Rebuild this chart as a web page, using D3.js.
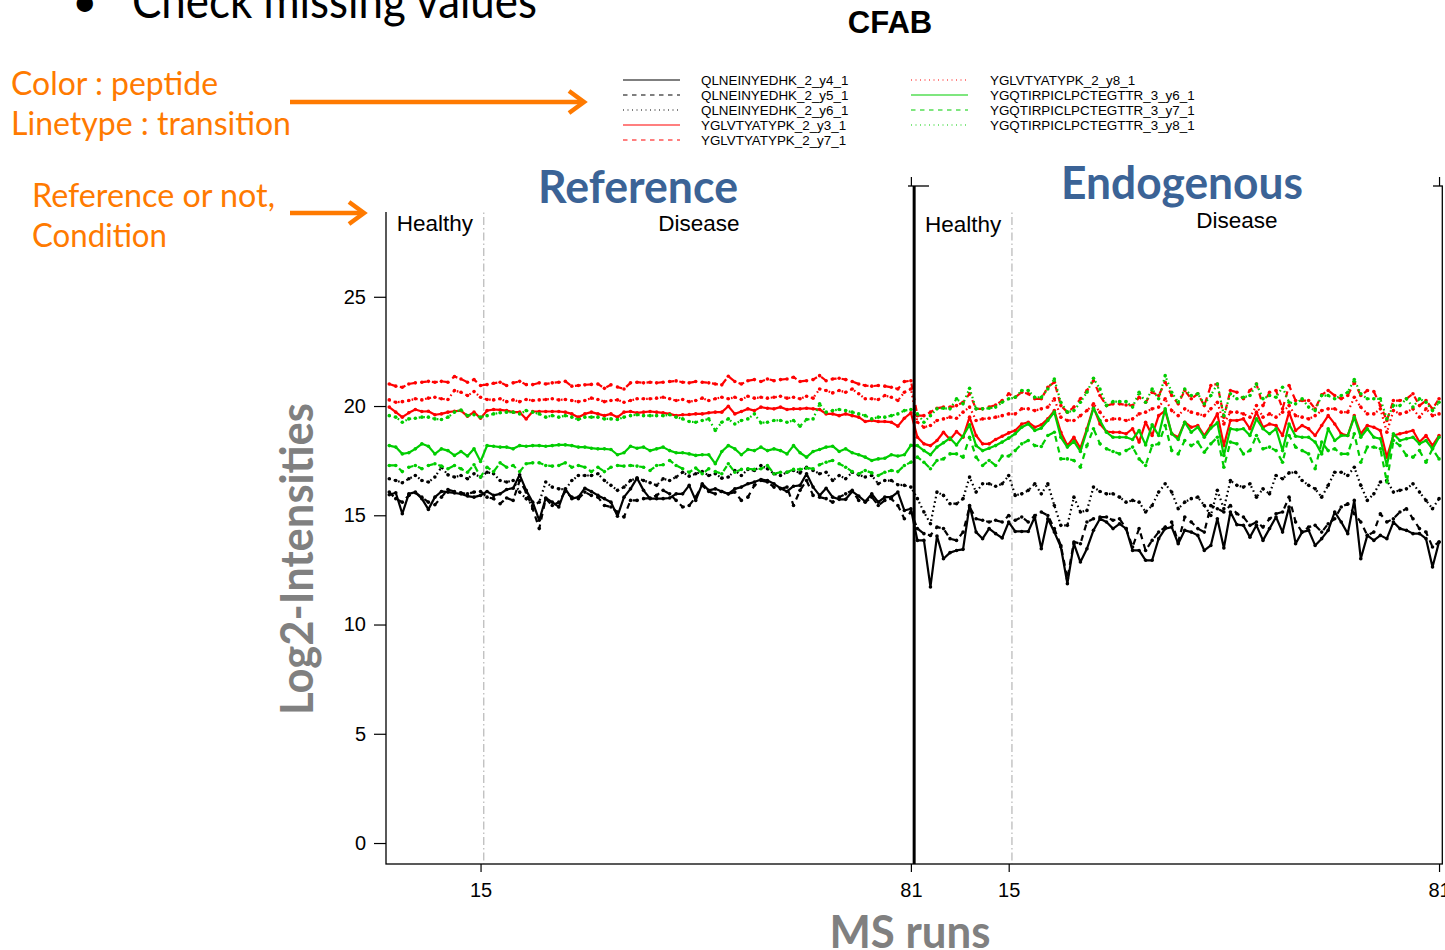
<!DOCTYPE html>
<html>
<head>
<meta charset="utf-8">
<script src="https://cdn.jsdelivr.net/npm/d3@7"></script>
<style>
  body { margin: 0; background: #fff; }
  svg { display: block; }
</style>
</head>
<body>
<svg id="chart" width="1445" height="950"></svg>
<script>
// ---- data: log2 intensities per MS run (runs 1-81 reference, 82-162 endogenous) ----
const QLN_y4 = [
  15.94,16.03,15.07,15.98,16.06,15.76,15.27,15.83,16.09,16.06,16.02,15.98,15.88,15.83,15.91,16.09,15.91,15.98,16.18,16.24,16.85,16.14,15.6,14.77,15.79,15.6,15.38,16.21,15.76,15.83,16.24,16.09,15.91,15.76,15.6,14.96,15.83,16.21,16.7,16.14,15.76,
  15.76,15.76,15.79,15.98,15.98,16.37,15.68,16.44,16.14,16.21,16.09,15.98,16.21,16.29,16.44,16.52,16.64,16.59,16.44,16.24,16.09,16.33,16.37,16.9,16.29,15.91,16.24,15.83,15.73,15.73,16.09,15.88,15.63,15.98,15.6,15.83,15.83,16.06,15.22,15.3,
  13.85,13.85,11.72,14.05,13.01,13.29,13.39,13.44,15.45,14.23,13.93,14.39,14.16,13.96,14.69,14.26,14.26,14.26,14.92,13.47,14.84,14.23,13.55,11.87,13.7,12.86,13.47,14.31,14.84,14.69,14.39,14.61,14.39,13.39,13.39,12.94,12.94,13.93,14.39,14.46,13.7,
  14.31,14.23,14.08,13.39,13.62,14.84,13.5,15.15,14.57,14.54,14.0,14.54,13.85,14.39,14.92,14.23,15.38,13.7,14.23,14.31,13.62,13.93,14.31,15.15,14.69,14.16,15.68,13.01,14.08,13.85,14.08,13.93,14.69,14.39,14.31,14.16,14.16,13.93,12.63,13.78
];
const QLN_y5 = [
  16.06,15.76,15.6,15.91,16.03,15.83,15.6,15.48,15.83,16.18,16.09,16.03,15.98,16.06,16.09,15.83,15.76,15.53,15.79,15.68,16.59,16.06,15.3,14.39,15.76,15.45,15.6,16.09,15.83,15.76,16.06,15.91,15.83,15.45,15.38,15.15,14.92,15.68,15.68,15.76,15.79,
  15.91,16.14,15.98,15.68,15.38,15.45,15.83,16.37,16.09,15.98,16.09,15.98,16.06,15.68,15.83,16.37,16.59,16.52,16.29,16.21,16.29,15.45,16.14,16.59,15.91,15.83,15.76,15.6,15.83,15.98,16.14,15.68,15.6,15.83,15.45,15.68,15.76,15.45,14.84,15.15,
  14.39,14.16,14.08,14.46,14.39,13.93,13.85,14.23,15.38,14.84,14.77,14.69,14.77,14.69,14.99,14.77,14.92,14.69,14.99,15.15,14.99,14.39,13.62,12.1,13.78,13.7,14.69,14.84,14.92,14.92,14.77,14.84,14.39,13.55,14.39,13.39,13.85,14.23,14.46,14.69,13.78,
  14.92,14.69,14.39,14.23,15.45,15.3,15.15,15.45,15.07,14.92,14.54,14.69,14.46,14.84,15.07,15.15,15.83,14.69,14.23,14.46,14.54,14.23,14.61,14.84,15.38,15.53,15.07,14.69,14.08,14.23,15.07,14.69,14.84,15.15,15.3,14.84,14.39,14.23,13.55,13.78
];
const QLN_y6 = [
  16.67,16.59,16.49,16.67,16.82,16.59,16.52,16.75,17.2,16.85,16.75,16.82,16.67,16.9,16.75,16.97,16.9,16.59,16.52,16.59,16.06,15.76,15.45,15.6,16.52,16.29,16.21,16.18,16.59,16.82,16.82,16.82,16.9,16.59,16.37,16.14,16.29,16.59,16.7,16.59,16.49,
  16.37,16.67,16.59,16.75,16.97,16.79,16.9,17.0,16.82,16.9,16.7,16.75,17.05,16.82,17.1,17.05,17.28,17.13,16.9,16.82,16.97,17.05,16.94,17.2,17.05,16.9,16.97,16.59,16.82,16.67,16.97,16.85,16.75,16.82,16.44,16.59,16.59,16.4,16.37,16.29,
  15.76,15.15,14.61,16.06,15.91,15.53,15.53,15.76,16.75,16.06,16.44,16.44,16.33,16.44,16.82,15.91,15.98,16.14,16.44,15.98,16.44,15.45,14.54,14.54,15.83,15.15,15.22,16.29,16.09,15.98,15.98,15.83,15.6,15.68,15.6,15.15,15.45,16.06,16.44,16.06,15.3,
  15.6,15.76,15.83,15.45,14.99,16.14,15.3,16.59,16.37,16.29,16.44,15.83,16.21,15.98,16.82,16.67,16.94,16.97,16.59,16.37,16.21,15.83,16.37,16.97,16.97,16.82,17.2,16.37,15.68,15.98,16.52,16.59,16.06,16.14,16.21,16.44,16.06,15.68,15.3,15.76
];
const YGL_y3 = [
  19.95,19.72,19.49,19.69,19.84,19.75,19.76,19.6,19.64,19.72,19.76,19.79,19.53,19.72,19.44,19.79,19.84,19.82,19.79,19.72,19.72,19.41,19.75,19.75,19.75,19.75,19.75,19.72,19.64,19.49,19.64,19.72,19.64,19.56,19.64,19.49,19.72,19.75,19.69,19.72,19.75,
  19.72,19.69,19.64,19.56,19.6,19.61,19.64,19.64,19.69,19.72,19.72,19.99,19.64,19.75,19.87,19.79,19.95,19.9,19.87,19.95,19.84,19.87,19.87,19.9,19.87,19.84,19.64,19.64,19.56,19.64,19.56,19.49,19.29,19.34,19.29,19.29,19.26,19.08,19.44,19.69,
  18.57,18.27,18.19,18.42,18.8,18.47,18.83,18.57,19.49,18.65,18.27,18.27,18.47,18.62,18.77,18.88,19.18,19.26,19.03,19.14,19.41,19.79,18.8,18.19,18.57,18.07,18.96,19.95,19.18,18.83,18.8,18.8,18.73,18.96,18.35,19.26,18.65,19.56,19.79,18.73,18.57,
  19.26,19.03,19.11,18.65,19.11,19.64,18.19,19.34,19.34,19.41,18.96,19.72,19.03,19.18,19.11,18.65,19.72,18.88,19.11,18.96,18.65,19.11,19.56,19.18,18.73,18.65,19.56,18.73,19.11,19.03,18.88,17.66,18.65,18.73,18.8,18.88,18.35,18.65,18.19,18.65
];
const YGL_y7 = [
  21.01,20.91,20.86,21.01,21.06,21.09,21.13,21.09,21.13,21.09,21.35,21.24,21.09,21.21,20.94,20.98,21.04,21.09,20.94,21.06,21.13,20.98,20.98,21.06,21.01,21.06,21.09,21.13,20.91,20.94,20.97,20.99,21.01,20.81,20.97,20.87,20.78,21.06,21.09,21.06,21.09,
  21.06,21.09,21.12,21.15,21.09,21.06,21.12,21.09,21.06,21.01,20.97,21.36,21.12,21.01,21.16,21.21,21.12,21.24,21.16,21.21,21.24,21.32,21.12,21.16,21.21,21.39,21.16,21.24,21.27,21.21,21.12,21.01,20.94,20.91,20.94,20.91,20.86,20.78,21.12,21.16,
  19.56,19.56,19.72,19.9,19.95,19.95,20.02,20.17,20.56,19.87,19.87,19.95,20.05,20.25,20.56,20.4,20.63,20.56,20.33,20.33,20.86,21.09,20.02,19.72,19.95,20.33,20.71,21.16,20.48,20.02,20.1,20.1,20.05,20.02,20.4,20.17,20.63,20.48,21.09,20.48,20.1,
  20.71,20.33,20.56,20.02,20.94,21.01,19.49,20.71,20.63,20.33,20.71,21.01,20.02,20.63,20.71,19.87,20.94,20.25,20.25,20.25,19.87,20.51,20.71,20.48,20.33,20.48,21.09,20.48,20.71,20.66,20.02,19.34,20.25,20.25,20.33,20.56,20.02,20.25,19.87,20.33
];
const YGL_y8 = [
  20.28,20.17,20.2,20.25,20.33,20.28,20.36,20.4,20.33,20.3,20.71,20.63,20.48,20.66,20.4,20.3,20.28,20.33,20.2,20.28,20.2,20.3,20.25,20.28,20.3,20.33,20.28,20.3,20.25,20.2,20.25,20.36,20.3,20.2,20.25,20.28,20.17,20.25,20.33,20.33,20.33,
  20.36,20.4,20.33,20.25,20.3,20.2,20.25,20.36,20.25,20.33,20.4,20.33,20.4,20.3,20.45,20.36,20.4,20.36,20.4,20.45,20.36,20.4,20.33,20.45,20.36,20.78,20.71,20.6,20.71,20.63,20.78,20.56,20.33,20.33,20.3,20.48,20.4,20.25,20.63,20.78,
  19.26,19.03,19.11,19.34,19.41,19.49,19.44,19.72,19.95,19.34,19.41,19.44,19.49,19.56,19.64,19.64,19.87,19.87,19.79,19.87,19.95,20.33,19.49,19.34,19.34,19.56,19.79,20.1,19.72,19.34,19.41,19.41,19.34,19.41,19.64,19.72,19.87,19.95,20.33,19.79,19.56,
  19.87,19.72,19.64,19.56,19.87,20.17,19.18,19.72,19.72,19.64,19.49,20.02,19.49,19.64,19.49,19.72,20.02,19.56,19.49,19.41,19.56,19.79,19.87,19.87,19.72,19.72,20.4,19.95,19.64,19.64,19.87,18.8,19.79,19.64,19.72,19.87,19.49,19.87,19.56,19.64
];
const YGQ_y6 = [
  18.19,18.12,17.81,17.86,18.04,18.27,18.16,17.81,18.04,17.96,17.74,17.92,17.71,18.04,17.46,18.19,18.16,18.12,18.12,18.04,18.19,18.16,18.19,18.19,18.16,18.19,18.22,18.22,18.19,18.12,18.12,18.07,18.04,18.04,18.01,17.77,17.86,18.16,18.07,18.12,17.96,
  18.04,18.12,17.96,17.86,17.86,17.81,17.74,17.77,17.77,17.36,17.92,18.19,18.04,17.77,18.01,17.96,18.12,17.96,18.04,17.96,17.81,18.19,17.86,17.66,17.92,18.01,18.12,18.16,17.92,18.04,17.86,17.77,17.66,17.51,17.58,17.61,17.77,17.71,17.77,18.2,
  18.19,17.96,17.77,18.12,18.32,18.53,18.22,18.62,19.14,18.19,17.96,18.07,18.19,18.35,18.53,18.73,19.03,19.18,18.88,18.99,19.34,19.72,18.57,18.12,18.38,17.92,18.88,19.9,19.34,18.8,18.57,18.57,18.57,18.47,18.88,18.22,19.14,18.65,19.87,18.73,18.47,
  19.26,18.8,19.03,18.57,18.99,19.23,17.74,18.96,18.91,18.96,18.65,19.41,18.96,18.73,18.96,17.96,19.18,18.62,18.57,18.57,18.35,17.81,18.96,18.42,18.65,18.65,19.49,18.57,18.96,18.57,18.5,17.28,18.73,18.42,18.5,18.57,18.27,18.42,18.04,18.57
];
const YGQ_y7 = [
  17.28,17.28,17.0,17.2,17.28,17.13,17.28,17.36,17.25,17.13,17.28,17.13,16.97,17.31,16.75,17.2,17.0,17.4,17.2,17.28,17.0,17.36,17.4,17.4,17.28,17.25,17.28,17.4,17.2,17.28,17.2,17.0,17.2,17.0,17.2,17.28,17.25,17.28,17.25,17.2,17.05,
  17.28,17.31,17.51,17.28,17.13,16.97,17.16,16.9,17.13,17.0,16.9,17.36,16.97,17.1,17.13,17.1,17.13,17.28,16.9,16.97,16.97,17.1,17.1,17.16,17.13,17.31,17.43,17.51,17.36,17.2,17.0,16.9,17.05,16.94,16.82,16.97,17.05,17.0,17.28,17.43,
  17.66,17.43,17.13,17.51,17.58,17.81,17.81,17.66,18.57,17.66,17.28,17.51,17.28,17.71,17.71,17.96,18.27,18.42,18.19,18.15,18.65,18.8,17.58,17.58,17.51,17.2,18.19,18.96,18.27,18.04,17.92,17.81,17.96,18.12,17.58,17.28,18.19,18.27,19.11,17.96,17.81,
  18.42,18.19,18.35,17.89,18.27,18.57,17.2,18.35,18.27,17.81,17.96,18.65,18.04,18.12,17.96,17.43,18.65,18.12,17.96,17.81,17.13,18.35,17.96,18.04,17.81,17.81,18.73,17.43,18.12,18.12,18.04,16.52,18.42,18.19,17.74,17.66,17.96,17.43,18.04,17.58
];
const YGQ_y8 = [
  19.56,19.49,19.26,19.41,19.44,19.49,19.49,19.41,19.38,19.49,19.72,19.82,19.56,19.6,19.49,19.56,19.64,19.69,19.72,19.72,19.64,19.79,19.72,19.64,19.49,19.56,19.49,19.56,19.49,19.38,19.49,19.49,19.49,19.41,19.41,19.38,19.49,19.56,19.6,19.56,19.56,
  19.56,19.56,19.6,19.49,19.41,19.29,19.26,19.34,19.41,18.88,19.26,19.41,19.18,19.34,19.41,19.64,19.23,19.26,19.34,19.34,19.26,19.34,19.08,19.38,19.41,20.1,19.72,19.79,19.84,19.79,19.72,19.64,19.56,19.41,19.49,19.49,19.56,19.64,19.79,19.84,
  19.64,19.26,19.56,19.87,19.9,19.87,20.33,20.1,20.81,19.87,19.87,19.9,19.95,20.17,20.33,20.4,20.71,20.71,20.4,20.4,20.78,21.24,20.17,19.72,19.79,20.17,20.63,21.27,20.78,20.02,20.2,20.2,20.2,19.95,20.63,20.17,20.78,20.33,21.39,20.63,20.17,
  20.78,20.48,20.56,20.1,20.48,21.01,19.56,20.56,20.33,20.4,20.48,21.01,20.33,20.48,20.4,20.86,20.17,20.1,20.33,19.95,19.79,20.48,20.48,20.33,20.48,20.63,21.21,20.56,20.33,20.33,20.33,19.41,20.02,20.02,20.33,19.95,20.33,20.17,19.79,20.17
];

const transitionNames = [
  "QLNEINYEDHK_2_y4_1", "QLNEINYEDHK_2_y5_1", "QLNEINYEDHK_2_y6_1",
  "YGLVTYATYPK_2_y3_1", "YGLVTYATYPK_2_y7_1", "YGLVTYATYPK_2_y8_1",
  "YGQTIRPICLPCTEGTTR_3_y6_1", "YGQTIRPICLPCTEGTTR_3_y7_1", "YGQTIRPICLPCTEGTTR_3_y8_1"
];
const transitionValues = [QLN_y4, QLN_y5, QLN_y6, YGL_y3, YGL_y7, YGL_y8, YGQ_y6, YGQ_y7, YGQ_y8];
const peptideOf = ["QLNEINYEDHK","QLNEINYEDHK","QLNEINYEDHK","YGLVTYATYPK","YGLVTYATYPK","YGLVTYATYPK",
                   "YGQTIRPICLPCTEGTTR","YGQTIRPICLPCTEGTTR","YGQTIRPICLPCTEGTTR"];
const lineTypeOf = ["solid","dashed","dotted","solid","dashed","dotted","solid","dashed","dotted"];

const runsPerLabel = 81;                 // runs in each of Reference / Endogenous
const conditionBreaks = [15.5, 96.5];    // Healthy | Disease boundaries
const labelTypeBreak = 81.5;             // Reference | Endogenous boundary
const conditionLabels = ["Healthy", "Disease", "Healthy", "Disease"];
const conditionLabelRuns = [8, 48.5, 89, 131];
const xTickRuns = [15, 81, 96, 162];
const yTicks = [0, 5, 10, 15, 20, 25];

// ---- styles ----
const peptideColor = { QLNEINYEDHK: "#000000", YGLVTYATYPK: "#ff0000", YGQTIRPICLPCTEGTTR: "#00cd00" };
const plotDash = { solid: null, dashed: "6,5", dotted: "1.6,3" };
const legendDash = { solid: null, dashed: "4.5,4.5", dotted: "1,3.5" };
const orange = "#ff7a00";
const slideBlue = "#3b6396";
const axisGray = "#808080";

const svg = d3.select("#chart");

// ---- scales ----
const x = d3.scaleLinear().domain([0.5, 2 * runsPerLabel + 0.5]).range([386, 1442.3]);
const y = d3.scaleLinear().domain([-0.96, 30.07]).range([864, 186]);

const plot = svg.append("g");

// condition separators (dot-dash grey)
plot.selectAll("line.cond").data(conditionBreaks).join("line")
  .attr("x1", d => x(d)).attr("x2", d => x(d))
  .attr("y1", y.range()[1]).attr("y2", y.range()[0])
  .attr("stroke", "#a8a8a8").attr("stroke-width", 1)
  .attr("stroke-dasharray", "8,3,1.5,3");

// profile lines
const lineGen = d3.line().x((d, i) => x(i + 1)).y(d => y(d));
transitionValues.forEach((vals, k) => {
  const col = peptideColor[peptideOf[k]];
  plot.append("path")
    .datum(vals)
    .attr("d", lineGen)
    .attr("fill", "none")
    .attr("stroke", col)
    .attr("stroke-width", 2.2)
    .attr("stroke-linejoin", "round")
    .attr("stroke-dasharray", plotDash[lineTypeOf[k]]);
  plot.append("g").selectAll("circle").data(vals).join("circle")
    .attr("cx", (d, i) => x(i + 1)).attr("cy", d => y(d))
    .attr("r", 1.8).attr("fill", col);
});

// plot frame
plot.append("rect")
  .attr("x", x.range()[0]).attr("y", y.range()[1])
  .attr("width", x.range()[1] - x.range()[0]).attr("height", y.range()[0] - y.range()[1])
  .attr("fill", "none").attr("stroke", "#000").attr("stroke-width", 1.3);

// Reference / Endogenous separator
plot.append("line")
  .attr("x1", x(labelTypeBreak)).attr("x2", x(labelTypeBreak))
  .attr("y1", y.range()[1]).attr("y2", y.range()[0])
  .attr("stroke", "#000").attr("stroke-width", 3);

// axes
const tickFont = "'Liberation Sans', Arial, Helvetica, sans-serif";
const yAxis = svg.append("g").attr("transform", `translate(${x.range()[0]},0)`)
  .call(d3.axisLeft(y).tickValues(yTicks).tickSize(12).tickPadding(8));
const xAxis = svg.append("g").attr("transform", `translate(0,${y.range()[0]})`)
  .call(d3.axisBottom(x).tickValues(xTickRuns).tickSize(8).tickPadding(11)
        .tickFormat(d => d > runsPerLabel ? d - runsPerLabel : d));
const topAxis = svg.append("g").attr("transform", `translate(0,${y.range()[1]})`)
  .call(d3.axisTop(x).tickValues([runsPerLabel, 2 * runsPerLabel]).tickSize(9).tickFormat(""));
[yAxis, xAxis, topAxis].forEach(a => {
  a.select(".domain").remove();
  a.selectAll("line").attr("stroke", "#000").attr("stroke-width", 1.2);
  a.selectAll("text").attr("font-family", tickFont).attr("font-size", 20).attr("fill", "#000");
});

// condition labels
svg.append("g").selectAll("text").data(conditionLabels).join("text")
  .attr("x", (d, i) => x(conditionLabelRuns[i]))
  .attr("y", (d, i) => [231, 231, 232, 228][i])
  .attr("text-anchor", "middle")
  .attr("font-family", tickFont).attr("font-size", 22.5)
  .text(d => d);

// slide title boxes over the top of the panels
const calibriLike = "Lato, 'Open Sans', sans-serif";
svg.append("rect").attr("x", 370).attr("y", 150).attr("width", 538).attr("height", 62).attr("fill", "#fff");
svg.append("rect").attr("x", 929).attr("y", 150).attr("width", 504).attr("height", 61.5).attr("fill", "#fff");
svg.append("text").attr("x", 638).attr("y", 203).attr("text-anchor", "middle")
  .attr("font-family", calibriLike).attr("font-weight", 700).attr("font-size", 45)
  .attr("fill", slideBlue).attr("textLength", 200).attr("lengthAdjust", "spacingAndGlyphs")
  .text("Reference");
svg.append("text").attr("x", 1182).attr("y", 199).attr("text-anchor", "middle")
  .attr("font-family", calibriLike).attr("font-weight", 700).attr("font-size", 45)
  .attr("fill", slideBlue).attr("textLength", 242).attr("lengthAdjust", "spacingAndGlyphs")
  .text("Endogenous");

// chart title
svg.append("text").attr("x", 890).attr("y", 33).attr("text-anchor", "middle")
  .attr("font-family", tickFont).attr("font-weight", 700).attr("font-size", 31)
  .text("CFAB");

// legend
const legendRows = 5;
const legend = svg.append("g");
transitionNames.forEach((name, k) => {
  const col = Math.floor(k / legendRows), row = k % legendRows;
  const lx = col === 0 ? 623 : 911;
  const tx = col === 0 ? 701 : 990;
  const ly = 80 + row * 15;
  legend.append("line")
    .attr("x1", lx).attr("x2", lx + 57).attr("y1", ly).attr("y2", ly)
    .attr("stroke", peptideColor[peptideOf[k]]).attr("stroke-width", 1.2)
    .attr("stroke-dasharray", legendDash[lineTypeOf[k]]);
  legend.append("text")
    .attr("x", tx).attr("y", ly + 4.6)
    .attr("font-family", tickFont).attr("font-size", 13.4)
    .text(name);
});

// axis titles
svg.append("text")
  .attr("transform", "translate(313,559) rotate(-90)")
  .attr("text-anchor", "middle")
  .attr("font-family", calibriLike).attr("font-weight", 700).attr("font-size", 46)
  .attr("fill", axisGray).attr("textLength", 312).attr("lengthAdjust", "spacingAndGlyphs")
  .text("Log2-Intensities");
svg.append("text")
  .attr("x", 910).attr("y", 948).attr("text-anchor", "middle")
  .attr("font-family", calibriLike).attr("font-weight", 700).attr("font-size", 46)
  .attr("fill", axisGray).attr("textLength", 161).attr("lengthAdjust", "spacingAndGlyphs")
  .text("MS runs");

// slide notes
svg.append("text").attr("x", 72).attr("y", 17)
  .attr("font-family", calibriLike).attr("font-size", 44).text("•");
svg.append("text").attr("x", 132).attr("y", 18)
  .attr("font-family", calibriLike).attr("font-size", 48)
  .attr("textLength", 405).attr("lengthAdjust", "spacingAndGlyphs")
  .text("Check missing values");

const notes = [
  { t: "Color : peptide", x: 11, y: 95, w: 207 },
  { t: "Linetype : transition", x: 11, y: 135, w: 280 },
  { t: "Reference or not,", x: 32, y: 207, w: 243 },
  { t: "Condition", x: 32, y: 247, w: 135 }
];
svg.append("g").selectAll("text").data(notes).join("text")
  .attr("x", d => d.x).attr("y", d => d.y)
  .attr("font-family", calibriLike).attr("font-size", 33)
  .attr("fill", orange)
  .attr("textLength", d => d.w).attr("lengthAdjust", "spacingAndGlyphs")
  .text(d => d.t);

// arrows
const arrows = [
  { x1: 290, x2: 584, y: 102 },
  { x1: 290, x2: 364, y: 213 }
];
arrows.forEach(a => {
  svg.append("line").attr("x1", a.x1).attr("x2", a.x2 - 2).attr("y1", a.y).attr("y2", a.y)
    .attr("stroke", orange).attr("stroke-width", 4.5);
  svg.append("path")
    .attr("d", `M${a.x2 - 15},${a.y - 11} L${a.x2},${a.y} L${a.x2 - 15},${a.y + 11}`)
    .attr("fill", "none").attr("stroke", orange).attr("stroke-width", 4.5)
    .attr("stroke-linejoin", "miter");
});
</script>
</body>
</html>
